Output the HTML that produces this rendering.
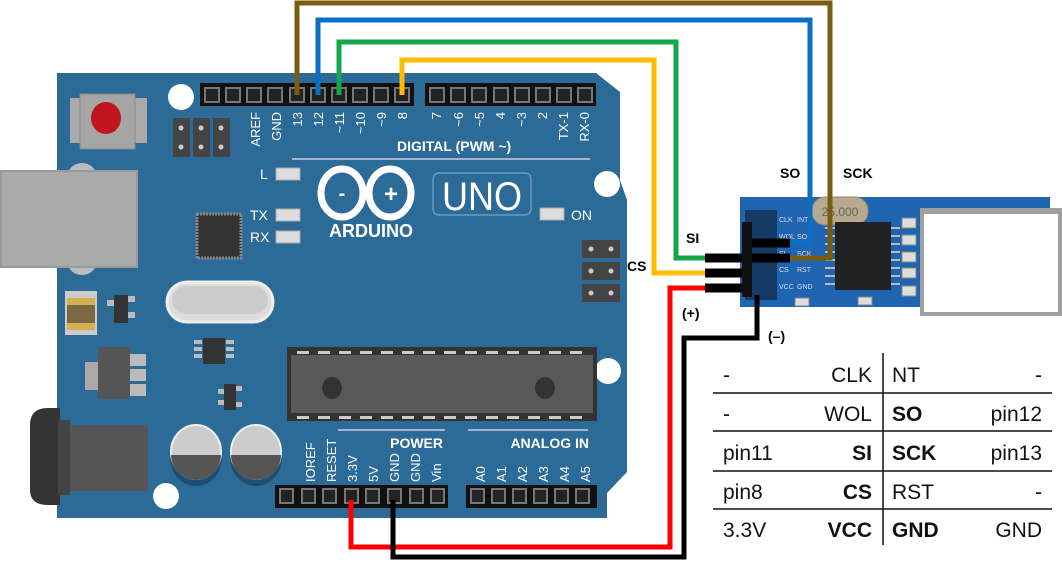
<!DOCTYPE html>
<html><head><meta charset="utf-8"><style>
html,body{margin:0;padding:0;background:#fff;width:1062px;height:564px;overflow:hidden}
svg{display:block}
text{font-family:"Liberation Sans",sans-serif}
</style></head><body>
<svg width="1062" height="564" viewBox="0 0 1062 564" xmlns="http://www.w3.org/2000/svg">
<path d="M57,73 L596,73 L620,92 L620,180 L627,200 L627,472 L607,493 L607,518 L57,518 Z" fill="#2c6a98"/>
<circle cx="181" cy="97" r="13" fill="#fff"/>
<circle cx="607" cy="184" r="13" fill="#fff"/>
<circle cx="166" cy="496" r="13" fill="#fff"/>
<circle cx="608" cy="371" r="13" fill="#fff"/>
<rect x="70" y="98" width="77" height="45" fill="#aaa"/>
<rect x="80" y="94" width="55" height="55" fill="#a5a5a5" stroke="#888"/>
<ellipse cx="106" cy="118" rx="15" ry="16" fill="#c0141e"/>
<rect x="173" y="118" width="17" height="39" fill="#444"/><rect x="193" y="118" width="17" height="39" fill="#444"/><rect x="213" y="118" width="17" height="39" fill="#444"/>
<g fill="#ccc"><circle cx="181" cy="128" r="2.5"/><circle cx="201" cy="128" r="2.5"/><circle cx="221" cy="128" r="2.5"/><circle cx="181" cy="147" r="2.5"/><circle cx="201" cy="147" r="2.5"/><circle cx="221" cy="147" r="2.5"/></g>
<ellipse cx="82" cy="175" rx="14" ry="12" fill="#bbb"/>
<ellipse cx="82" cy="263" rx="14" ry="12" fill="#bbb"/>
<rect x="1" y="171" width="136" height="96" fill="#aaa" stroke="#999" stroke-width="2"/>
<rect x="65" y="291" width="32" height="44" fill="#ccc"/>
<rect x="67" y="298" width="28" height="32" fill="#d4b050"/>
<rect x="67" y="305" width="28" height="18" fill="#7a6840"/>
<rect x="114" y="295" width="14" height="28" fill="#333"/><rect x="107" y="300" width="7" height="6" fill="#bbb"/><rect x="128" y="296" width="7" height="6" fill="#bbb"/><rect x="128" y="312" width="7" height="6" fill="#bbb"/>
<rect x="85" y="362" width="15" height="28" fill="#aaa"/>
<rect x="98" y="347" width="32" height="52" fill="#555"/>
<rect x="130" y="354" width="16" height="12" fill="#bbb"/><rect x="130" y="369" width="16" height="12" fill="#bbb"/><rect x="130" y="384" width="16" height="12" fill="#bbb"/>
<path d="M30,425 Q30,408 48,408 L60,408 L60,505 L48,505 Q30,505 30,490 Z" fill="#333"/>
<rect x="62" y="425" width="86" height="66" fill="#555"/>
<rect x="58" y="420" width="12" height="75" fill="#444"/>
<ellipse cx="196" cy="458" rx="26" ry="28" fill="#1d4f75"/>
<ellipse cx="256" cy="458" rx="26" ry="28" fill="#1d4f75"/>
<ellipse cx="196" cy="452" rx="25" ry="27" fill="#ccc" stroke="#eee" stroke-width="2"/>
<ellipse cx="256" cy="452" rx="25" ry="27" fill="#ccc" stroke="#eee" stroke-width="2"/>
<path d="M171,455 L221,455 A25,25 0 0 1 171,455Z" fill="#555"/>
<path d="M231,455 L281,455 A25,25 0 0 1 231,455Z" fill="#555"/>
<rect x="197" y="214" width="44" height="44" fill="#333" stroke="#888" stroke-dasharray="2 1" stroke-width="3"/>
<rect x="203" y="338" width="22" height="26" fill="#333"/>
<g fill="#bbb"><rect x="194" y="340" width="8" height="4"/><rect x="194" y="347" width="8" height="4"/><rect x="194" y="354" width="8" height="4"/><rect x="226" y="340" width="8" height="4"/><rect x="226" y="347" width="8" height="4"/><rect x="226" y="354" width="8" height="4"/></g>
<rect x="224" y="384" width="12" height="26" fill="#333"/>
<g fill="#bbb"><rect x="218" y="389" width="6" height="5"/><rect x="218" y="400" width="6" height="5"/><rect x="236" y="386" width="6" height="5"/><rect x="236" y="402" width="6" height="5"/></g>
<rect x="167" y="282" width="106" height="40" rx="20" fill="#ddd" stroke="#eee" stroke-width="3"/>
<rect x="172" y="286" width="96" height="28" rx="14" fill="#ccc"/>
<g fill="#ddd" stroke="#aaa"><rect x="276" y="168" width="24" height="12"/><rect x="276" y="209" width="24" height="12"/><rect x="276" y="231" width="24" height="12"/><rect x="540" y="208" width="24" height="12"/></g>
<g fill="#fff" font-size="14"><text x="260" y="179">L</text><text x="250" y="220">TX</text><text x="250" y="242">RX</text><text x="571" y="220">ON</text></g>
<g fill="none" stroke="#fff" stroke-width="7"><ellipse cx="342" cy="193" rx="21" ry="24"/><ellipse cx="390" cy="193" rx="21" ry="24"/></g>
<text x="342" y="200" fill="#fff" font-size="20" font-weight="bold" text-anchor="middle">-</text>
<text x="391" y="202" fill="#fff" font-size="24" font-weight="bold" text-anchor="middle">+</text>
<text x="371" y="237" fill="#fff" font-size="18" font-weight="bold" text-anchor="middle">ARDUINO</text>
<rect x="433" y="173" width="98" height="42" rx="6" fill="none" stroke="#6a9ac0" stroke-width="1.5"/>
<text x="482" y="210" fill="#fff" font-size="40" text-anchor="middle" textLength="80" lengthAdjust="spacingAndGlyphs">UNO</text>
<g fill="#444"><rect x="582" y="240" width="38" height="18"/><rect x="582" y="262" width="38" height="18"/><rect x="582" y="284" width="38" height="18"/></g>
<g fill="#ccc"><circle cx="591" cy="249" r="2.5"/><circle cx="611" cy="249" r="2.5"/><circle cx="591" cy="271" r="2.5"/><circle cx="611" cy="271" r="2.5"/><circle cx="591" cy="293" r="2.5"/><circle cx="611" cy="293" r="2.5"/></g>
<rect x="287" y="347" width="310" height="74" fill="#333"/>
<rect x="291" y="355" width="302" height="58" fill="#595959"/>
<g fill="#ccc">
<rect x="297" y="351" width="12" height="3"/><rect x="318" y="351" width="12" height="3"/><rect x="339" y="351" width="12" height="3"/><rect x="360" y="351" width="12" height="3"/><rect x="381" y="351" width="12" height="3"/><rect x="402" y="351" width="12" height="3"/><rect x="423" y="351" width="12" height="3"/><rect x="444" y="351" width="12" height="3"/><rect x="465" y="351" width="12" height="3"/><rect x="486" y="351" width="12" height="3"/><rect x="507" y="351" width="12" height="3"/><rect x="528" y="351" width="12" height="3"/><rect x="549" y="351" width="12" height="3"/><rect x="570" y="351" width="12" height="3"/>
<rect x="297" y="416" width="12" height="3"/><rect x="318" y="416" width="12" height="3"/><rect x="339" y="416" width="12" height="3"/><rect x="360" y="416" width="12" height="3"/><rect x="381" y="416" width="12" height="3"/><rect x="402" y="416" width="12" height="3"/><rect x="423" y="416" width="12" height="3"/><rect x="444" y="416" width="12" height="3"/><rect x="465" y="416" width="12" height="3"/><rect x="486" y="416" width="12" height="3"/><rect x="507" y="416" width="12" height="3"/><rect x="528" y="416" width="12" height="3"/><rect x="549" y="416" width="12" height="3"/><rect x="570" y="416" width="12" height="3"/>
</g>
<ellipse cx="332" cy="388" rx="10" ry="11" fill="#333"/><ellipse cx="545" cy="388" rx="10" ry="11" fill="#333"/>
<rect x="200" y="83" width="214" height="23" fill="#111"/>
<rect x="425" y="83" width="171" height="23" fill="#111"/>
<g fill="#222" stroke="#777" stroke-width="2">
<rect x="205" y="88" width="14" height="14"/><rect x="226" y="88" width="14" height="14"/><rect x="247" y="88" width="14" height="14"/><rect x="268" y="88" width="14" height="14"/><rect x="290" y="88" width="14" height="14"/><rect x="311" y="88" width="14" height="14"/><rect x="332" y="88" width="14" height="14"/><rect x="353" y="88" width="14" height="14"/><rect x="374" y="88" width="14" height="14"/><rect x="395" y="88" width="14" height="14"/>
<rect x="430" y="88" width="14" height="14"/><rect x="451" y="88" width="14" height="14"/><rect x="472" y="88" width="14" height="14"/><rect x="494" y="88" width="14" height="14"/><rect x="515" y="88" width="14" height="14"/><rect x="536" y="88" width="14" height="14"/><rect x="557" y="88" width="14" height="14"/><rect x="578" y="88" width="14" height="14"/>
</g>
<g fill="#fff" font-size="13" text-anchor="end">
<text transform="translate(260,112) rotate(-90)">AREF</text>
<text transform="translate(281,112) rotate(-90)">GND</text>
<text transform="translate(302,112) rotate(-90)">13</text>
<text transform="translate(323,112) rotate(-90)">12</text>
<text transform="translate(344,112) rotate(-90)">~11</text>
<text transform="translate(365,112) rotate(-90)">~10</text>
<text transform="translate(386,112) rotate(-90)">~9</text>
<text transform="translate(407,112) rotate(-90)">8</text>
<text transform="translate(441,112) rotate(-90)">7</text>
<text transform="translate(463,112) rotate(-90)">~6</text>
<text transform="translate(484,112) rotate(-90)">~5</text>
<text transform="translate(505,112) rotate(-90)">4</text>
<text transform="translate(526,112) rotate(-90)">~3</text>
<text transform="translate(547,112) rotate(-90)">2</text>
<text transform="translate(568,112) rotate(-90)">TX-1</text>
<text transform="translate(589,112) rotate(-90)">RX-0</text>
</g>
<text x="397" y="151" fill="#fff" font-size="14" font-weight="bold">DIGITAL (PWM ~)</text>
<line x1="292" y1="159" x2="590" y2="159" stroke="#ccd" stroke-width="1.5"/>
<line x1="338" y1="430" x2="445" y2="430" stroke="#ccd" stroke-width="1.5"/>
<line x1="468" y1="430" x2="588" y2="430" stroke="#ccd" stroke-width="1.5"/>
<text x="443" y="448" fill="#fff" font-size="14" font-weight="bold" text-anchor="end">POWER</text>
<text x="589" y="448" fill="#fff" font-size="14" font-weight="bold" text-anchor="end">ANALOG IN</text>
<g fill="#fff" font-size="13">
<text transform="translate(315,482) rotate(-90)">IOREF</text>
<text transform="translate(336,482) rotate(-90)">RESET</text>
<text transform="translate(357,482) rotate(-90)">3.3V</text>
<text transform="translate(378,482) rotate(-90)">5V</text>
<text transform="translate(399,482) rotate(-90)">GND</text>
<text transform="translate(420,482) rotate(-90)">GND</text>
<text transform="translate(441,482) rotate(-90)">Vin</text>
<text transform="translate(485,482) rotate(-90)">A0</text>
<text transform="translate(506,482) rotate(-90)">A1</text>
<text transform="translate(527,482) rotate(-90)">A2</text>
<text transform="translate(548,482) rotate(-90)">A3</text>
<text transform="translate(569,482) rotate(-90)">A4</text>
<text transform="translate(590,482) rotate(-90)">A5</text>
</g>
<rect x="275" y="485" width="173" height="23" fill="#111"/>
<rect x="466" y="485" width="131" height="23" fill="#111"/>
<g fill="#222" stroke="#777" stroke-width="2">
<rect x="280" y="489" width="13" height="14"/><rect x="302" y="489" width="13" height="14"/><rect x="323" y="489" width="13" height="14"/><rect x="345" y="489" width="13" height="14"/><rect x="366" y="489" width="13" height="14"/><rect x="388" y="489" width="13" height="14"/><rect x="410" y="489" width="13" height="14"/><rect x="431" y="489" width="13" height="14"/>
<rect x="471" y="489" width="13" height="14"/><rect x="492" y="489" width="13" height="14"/><rect x="513" y="489" width="13" height="14"/><rect x="534" y="489" width="13" height="14"/><rect x="555" y="489" width="13" height="14"/><rect x="576" y="489" width="13" height="14"/>
</g>
<!-- module -->
<rect x="740" y="197" width="310" height="110" fill="#1f64b0"/>
<rect x="745" y="210" width="32" height="90" fill="#163a66"/>
<rect x="812" y="197" width="56" height="28" rx="13" fill="#b8a890" stroke="#887"/>
<text x="840" y="216" font-size="12" fill="#665" text-anchor="middle">25.000</text>
<rect x="835" y="222" width="56" height="68" fill="#222"/>
<g stroke="#bbb" stroke-width="2">
<line x1="825" y1="228" x2="835" y2="228"/><line x1="825" y1="236" x2="835" y2="236"/><line x1="825" y1="244" x2="835" y2="244"/><line x1="825" y1="252" x2="835" y2="252"/><line x1="825" y1="260" x2="835" y2="260"/><line x1="825" y1="268" x2="835" y2="268"/><line x1="825" y1="276" x2="835" y2="276"/><line x1="825" y1="284" x2="835" y2="284"/>
<line x1="891" y1="228" x2="900" y2="228"/><line x1="891" y1="236" x2="900" y2="236"/><line x1="891" y1="244" x2="900" y2="244"/><line x1="891" y1="252" x2="900" y2="252"/><line x1="891" y1="260" x2="900" y2="260"/><line x1="891" y1="268" x2="900" y2="268"/><line x1="891" y1="276" x2="900" y2="276"/><line x1="891" y1="284" x2="900" y2="284"/>
</g>
<g fill="#ddd" font-size="7"><text x="779" y="222">CLK</text><text x="797" y="222">INT</text><text x="779" y="239">WOL</text><text x="797" y="239">SO</text><text x="779" y="256">SI</text><text x="797" y="256">SCK</text><text x="779" y="272">CS</text><text x="797" y="272">RST</text><text x="779" y="289">VCC</text><text x="797" y="289">GND</text></g>
<g fill="#ddd" stroke="#888"><rect x="902" y="218" width="14" height="10"/><rect x="902" y="235" width="14" height="10"/><rect x="902" y="252" width="14" height="10"/><rect x="902" y="268" width="14" height="10"/><rect x="902" y="286" width="14" height="10"/><rect x="858" y="297" width="14" height="8"/><rect x="795" y="298" width="14" height="8"/></g>
<rect x="920" y="208" width="142" height="108" fill="#a0a0a0"/>
<rect x="924" y="214" width="134" height="98" fill="#fff"/>
<g fill="none" stroke-width="5" stroke-linejoin="miter">
<polyline points="297,95 297,3 830,3 830,258 790,258" stroke="#7a5c10"/>
<polyline points="318,95 318,20 810,20 810,243 790,243" stroke="#0a6fc2"/>
<polyline points="339,95 339,42 676,42 676,258 705,258" stroke="#14a84a"/>
<polyline points="402,95 402,60 654,60 654,273 705,273" stroke="#ffbc00"/>
<polyline points="351,500 351,547 670,547 670,288 705,288" stroke="#ff0000"/>
<polyline points="393,500 393,557 684,557 684,338 757,338 757,295" stroke="#000"/>
</g>
<g stroke="#000" stroke-width="9">
<line x1="705" y1="258" x2="745" y2="258"/><line x1="705" y1="273" x2="745" y2="273"/><line x1="705" y1="288" x2="745" y2="288"/>
<line x1="750" y1="243" x2="790" y2="243"/><line x1="750" y1="258" x2="790" y2="258"/>
</g>
<rect x="742" y="222" width="10" height="75" fill="#111"/>
<g font-size="14" font-weight="bold" fill="#000">
<text x="780" y="178">SO</text><text x="843" y="178">SCK</text><text x="686" y="243">SI</text><text x="627" y="271">CS</text><text x="682" y="318">(+)</text><text x="768" y="341">(–)</text>
</g>
<g stroke="#111" stroke-width="1.5">
<line x1="713" y1="393" x2="1052" y2="393"/><line x1="713" y1="431" x2="1052" y2="431"/><line x1="713" y1="471" x2="1052" y2="471"/><line x1="713" y1="509" x2="1052" y2="509"/>
<line x1="883" y1="353" x2="883" y2="545"/>
</g>
<g font-size="21" fill="#111">
<text x="723" y="382">-</text><text x="872" y="382" text-anchor="end">CLK</text><text x="892" y="382">NT</text><text x="1042" y="382" text-anchor="end">-</text>
<text x="723" y="421">-</text><text x="872" y="421" text-anchor="end">WOL</text><text x="892" y="421" font-weight="bold">SO</text><text x="1042" y="421" text-anchor="end">pin12</text>
<text x="723" y="460">pin11</text><text x="872" y="460" text-anchor="end" font-weight="bold">SI</text><text x="892" y="460" font-weight="bold">SCK</text><text x="1042" y="460" text-anchor="end">pin13</text>
<text x="723" y="499">pin8</text><text x="872" y="499" text-anchor="end" font-weight="bold">CS</text><text x="892" y="499">RST</text><text x="1042" y="499" text-anchor="end">-</text>
<text x="723" y="537">3.3V</text><text x="872" y="537" text-anchor="end" font-weight="bold">VCC</text><text x="892" y="537" font-weight="bold">GND</text><text x="1042" y="537" text-anchor="end">GND</text>
</g>
</svg>
</body></html>
